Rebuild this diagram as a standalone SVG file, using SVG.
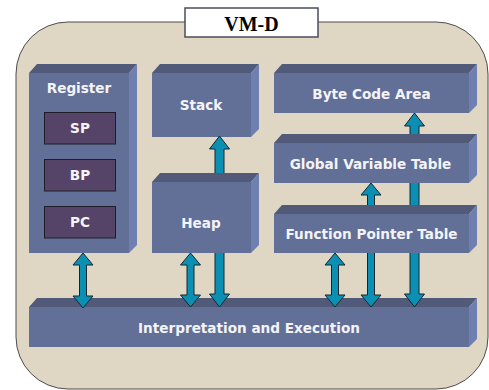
<svg xmlns="http://www.w3.org/2000/svg" width="489" height="390" viewBox="0 0 489 390">
  <style>
    .front { fill: #626f97; }
    .top { fill: #525a79; }
    .side { fill: #6f80b0; }
    .lbl { font-family: "DejaVu Sans", Verdana, sans-serif; font-weight: bold; font-size: 13.6px; fill: #f4f4f8; text-anchor: middle; }
    .reg { fill: #554468; stroke: #1e1e28; stroke-width: 1; }
    .arrow { fill: #0b8fb3; stroke: #14262e; stroke-width: 1; stroke-linejoin: miter; }
  </style>

  <!-- machine outline -->
  <rect x="16" y="22" width="472" height="367" rx="52" ry="52" fill="#dfd7c4" stroke="#4d4d4d" stroke-width="1"/>

  <!-- title -->
  <g id="title">
    <rect x="185" y="8" width="133" height="29" fill="#ffffff" stroke="#4a4e5e" stroke-width="1.5"/>
    <text x="251.5" y="31" font-family="'Liberation Serif', 'Times New Roman', serif" font-weight="bold" font-size="20" text-anchor="middle" fill="#000">VM-D</text>
  </g>

  <!-- Interpretation and Execution -->
  <g id="interp">
    <polygon class="top" points="29,307 37,298 477,298 469,307"/>
    <polygon class="side" points="469,307 477,298 477,339 469,347"/>
    <rect class="front" x="29" y="307" width="440" height="40"/>
    <text class="lbl" x="249" y="333">Interpretation and Execution</text>
  </g>

  <!-- Register block -->
  <g id="register">
    <polygon class="top" points="29,73 37,64 137,64 129,73"/>
    <polygon class="side" points="129,73 137,64 137,245 129,253"/>
    <rect class="front" x="29" y="73" width="100" height="180"/>
    <text class="lbl" x="79" y="93">Register</text>
    <rect class="reg" x="44.5" y="112.5" width="71" height="31.5"/>
    <text class="lbl" x="80" y="133" font-size="14">SP</text>
    <rect class="reg" x="44.5" y="159.5" width="71" height="31.5"/>
    <text class="lbl" x="80" y="180" font-size="14">BP</text>
    <rect class="reg" x="44.5" y="206.5" width="71" height="31.5"/>
    <text class="lbl" x="80" y="227" font-size="14">PC</text>
  </g>

  <!-- Stack -->
  <g id="stack">
    <polygon class="top" points="152,73 160,64 259,64 251,73"/>
    <polygon class="side" points="251,73 259,64 259,129 251,137"/>
    <rect class="front" x="152" y="73" width="99" height="64"/>
    <text class="lbl" x="201" y="110">Stack</text>
  </g>

  <!-- Byte Code Area -->
  <g id="bytecode">
    <polygon class="top" points="274,73 282,64 477,64 469,73"/>
    <polygon class="side" points="469,73 477,64 477,105 469,113"/>
    <rect class="front" x="274" y="73" width="195" height="40"/>
    <text class="lbl" x="371.5" y="99">Byte Code Area</text>
  </g>

  <!-- connectors -->
  <g id="connectors">
    <path class="arrow" d="M219.5,136 L229.5,149 L224,149 L224,294 L229.5,294 L219.5,307 L209.5,294 L215,294 L215,149 L209.5,149 Z"/>
    <path class="arrow" d="M83,253 L93,265 L86.5,265 L86.5,296 L93,296 L83,308 L73,296 L79.5,296 L79.5,265 L73,265 Z"/>
    <path class="arrow" d="M190.5,253 L200.5,265 L194,265 L194,295 L200.5,295 L190.5,307 L180.5,295 L187,295 L187,265 L180.5,265 Z"/>
    <path class="arrow" d="M335,253 L345,265 L338.5,265 L338.5,295 L345,295 L335,307 L325,295 L331.5,295 L331.5,265 L325,265 Z"/>
    <path class="arrow" d="M371,183 L381,195 L374.5,195 L374.5,295 L381,295 L371,307 L361,295 L367.5,295 L367.5,195 L361,195 Z"/>
    <path class="arrow" d="M414.5,113 L424.5,126 L419,126 L419,294 L424.5,294 L414.5,307 L404.5,294 L410,294 L410,126 L404.5,126 Z"/>
  </g>

  <!-- Heap -->
  <g id="heap">
    <polygon class="top" points="152,182 160,173 259,173 251,182"/>
    <polygon class="side" points="251,182 259,173 259,245 251,253"/>
    <rect class="front" x="152" y="182" width="99" height="71"/>
    <text class="lbl" x="201" y="228">Heap</text>
  </g>

  <!-- Global Variable Table -->
  <g id="globals">
    <polygon class="top" points="274,143 282,134 477,134 469,143"/>
    <polygon class="side" points="469,143 477,134 477,175 469,183"/>
    <rect class="front" x="274" y="143" width="195" height="40"/>
    <text class="lbl" x="370.5" y="169">Global Variable Table</text>
  </g>

  <!-- Function Pointer Table -->
  <g id="functions">
    <polygon class="top" points="274,214 282,205 477,205 469,214"/>
    <polygon class="side" points="469,214 477,205 477,245 469,253"/>
    <rect class="front" x="274" y="214" width="195" height="39"/>
    <text class="lbl" x="371.5" y="239">Function Pointer Table</text>
  </g>
</svg>
